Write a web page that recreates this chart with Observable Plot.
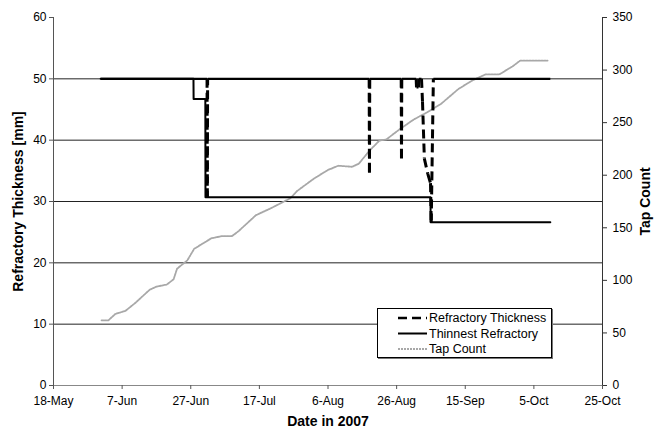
<!DOCTYPE html>
<html>
<head>
<meta charset="utf-8">
<script src="https://cdn.jsdelivr.net/npm/d3@7"></script>
<script src="https://cdn.jsdelivr.net/npm/@observablehq/plot@0.6"></script>
<style>
  html, body { margin: 0; padding: 0; background: #fff; }
  #wrap { position: relative; width: 657px; height: 437px; font-family: 'Liberation Sans', Arial, sans-serif; }
  #legend { position: absolute; left: 377px; top: 308px; width: 173px; height: 48px; border: 1px solid #000; background: #fff; box-shadow: 1px 1px 0 #777; }
</style>
</head>
<body>
<div id="wrap"><div id="chart"></div><div id="legend"></div></div>
<script>
// ---- Data ----
const xTickDates = ["2007-05-18","2007-06-07","2007-06-27","2007-07-17","2007-08-06","2007-08-26","2007-09-15","2007-10-05","2007-10-25"];
const leftTicks = [0, 10, 20, 30, 40, 50, 60];
const gridValues = [10, 20, 30, 40, 50];
const tapTicks = [0, 50, 100, 150, 200, 250, 300, 350];

// Refractory Thickness (dashed)
const thickDates = ["2007-05-31 18:00","2007-07-01 18:00","2007-07-01 20:00","2007-07-01 22:00",
  "2007-08-18 00:00","2007-08-18 02:00","2007-08-18 04:00",
  "2007-08-27 08:00","2007-08-27 10:00","2007-08-27 12:00",
  "2007-08-31 17:00","2007-08-31 19:00","2007-09-01 09:00","2007-09-01 11:00",
  "2007-09-02 06:00","2007-09-02 13:00","2007-09-03 02:00","2007-09-04 02:00","2007-09-04 21:00","2007-09-05 02:00","2007-09-05 17:00",
  "2007-10-09 19:00"];
const thickValues = [50,50,30.7,50, 50,34.7,50, 50,37.0,50, 50,48.6,48.6,50, 50,46.3,37,34.5,33,26.6,50, 50];

// Thinnest Refractory (solid)
const thinDates = ["2007-05-31 18:00","2007-06-27 19:00","2007-06-27 20:00","2007-07-01 06:00","2007-07-01 07:00","2007-09-04 21:00","2007-09-04 22:00","2007-10-09 19:00"];
const thinValues = [50, 50, 46.7, 46.7, 30.7, 30.7, 26.6, 26.6];

// Tap Count (right axis)
const tapDates = ["2007-06-01","2007-06-03","2007-06-04","2007-06-05","2007-06-08","2007-06-11","2007-06-15","2007-06-17","2007-06-20","2007-06-22","2007-06-23","2007-06-26","2007-06-28","2007-06-30","2007-07-03","2007-07-06","2007-07-09","2007-07-11","2007-07-16","2007-07-20","2007-07-26","2007-07-28","2007-08-02","2007-08-06","2007-08-09","2007-08-13","2007-08-15","2007-08-18","2007-08-21","2007-08-23","2007-08-27","2007-08-31","2007-09-04","2007-09-08","2007-09-13","2007-09-17","2007-09-21","2007-09-25","2007-09-29","2007-10-01","2007-10-09"];
const tapValues = [62,62,65,68,71,79,91,94,96,101,111,119,130,134,140,142,142,147,162,168,178,185,197,205,209,208,211,223,233,234,244,253,260,268,282,290,296,296,304,309,309];

const legendLabels = ["Refractory Thickness", "Thinnest Refractory", "Tap Count"];

// ---- Build ----
const pDay = d3.utcParse("%Y-%m-%d");
const pTime = d3.utcParse("%Y-%m-%d %H:%M");
const xTicks = xTickDates.map(pDay);
const LEFT_MAX = 60, RIGHT_MAX = 350;
const toLeft = v => v * LEFT_MAX / RIGHT_MAX;
const font = "'Liberation Sans', Arial, sans-serif";

// Thickness as segments (dense flat readings render solid, dips dashed)
const thickT = thickDates.map(pTime);
const segs = d3.range(thickValues.length - 1).map(i => ({
  x1: thickT[i], y1: thickValues[i], x2: thickT[i + 1], y2: thickValues[i + 1],
  flat: thickValues[i] === thickValues[i + 1]
}));
const flatSegs = segs.filter(s => s.flat);
const dipSegs = segs.filter(s => !s.flat);

const chart = Plot.plot({
  width: 657,
  height: 437,
  marginLeft: 53,
  marginRight: 55,
  marginTop: 17,
  marginBottom: 52,
  style: { fontFamily: font, fontSize: "12px", background: "#fff", color: "#000" },
  x: { type: "utc", domain: [xTicks[0], xTicks[xTicks.length - 1]], axis: null },
  y: { domain: [0, LEFT_MAX], axis: null },
  marks: [
    Plot.ruleY(gridValues, { stroke: "#222", strokeWidth: 1 }),
    Plot.ruleY([0], { stroke: "#888", strokeWidth: 1 }),
    Plot.ruleX([xTicks[0]], { stroke: "#555", strokeWidth: 1 }),
    Plot.ruleX([xTicks[xTicks.length - 1]], { stroke: "#333", strokeWidth: 1 }),
    Plot.axisX(xTicks, { anchor: "bottom", tickSize: 4, tickPadding: 7, tickFormat: d3.utcFormat("%-d-%b"), label: null, stroke: "#555" }),
    Plot.axisY(leftTicks, { anchor: "left", tickSize: 4, tickPadding: 3, label: null, stroke: "#555" }),
    Plot.axisY(tapTicks.map(toLeft), { anchor: "right", tickSize: 4, tickPadding: 6, label: null, tickFormat: d => String(Math.round(d * RIGHT_MAX / LEFT_MAX)), stroke: "#333" }),
    Plot.line(tapValues, { x: tapDates.map(pDay), y: tapValues.map(toLeft), stroke: "#a8a8a8", strokeWidth: 1.8, strokeDasharray: "2,1" }),
    Plot.line(thinValues, { x: thinDates.map(pTime), y: thinValues, stroke: "#000", strokeWidth: 2 }),
    Plot.link(flatSegs, { x1: "x1", y1: "y1", x2: "x2", y2: "y2", stroke: "#000", strokeWidth: 2.2 }),
    Plot.link(dipSegs, { x1: "x1", y1: "y1", x2: "x2", y2: "y2", stroke: "#000", strokeWidth: 3, strokeDasharray: "9,5" }),
    Plot.text(["Refractory Thickness [mm]"], { frameAnchor: "left", textAnchor: "middle", dx: -35, rotate: -90, fontWeight: "bold", fontSize: 14 }),
    Plot.text(["Tap Count"], { frameAnchor: "right", textAnchor: "middle", dx: 43, rotate: -90, fontWeight: "bold", fontSize: 14 }),
    Plot.text(["Date in 2007"], { frameAnchor: "bottom", textAnchor: "middle", dy: 40, fontWeight: "bold", fontSize: 14 })
  ]
});
document.getElementById("chart").appendChild(chart);

// ---- Legend ----
const legendStyles = [
  { stroke: "#000", width: 2.5, dash: "9,5" },
  { stroke: "#000", width: 2, dash: null },
  { stroke: "#a8a8a8", width: 2, dash: "2,1" }
];
const lg = d3.select("#legend").append("svg").attr("width", 173).attr("height", 48)
  .style("font-family", font).style("font-size", "12.5px");
legendLabels.forEach((label, i) => {
  const y = 9 + i * 15.5;
  const s = legendStyles[i];
  lg.append("line").attr("x1", 20).attr("x2", 49).attr("y1", y).attr("y2", y)
    .attr("stroke", s.stroke).attr("stroke-width", s.width)
    .attr("stroke-dasharray", s.dash);
  lg.append("text").attr("x", 51).attr("y", y).attr("dy", "0.35em").text(label);
});
</script>
</body>
</html>
